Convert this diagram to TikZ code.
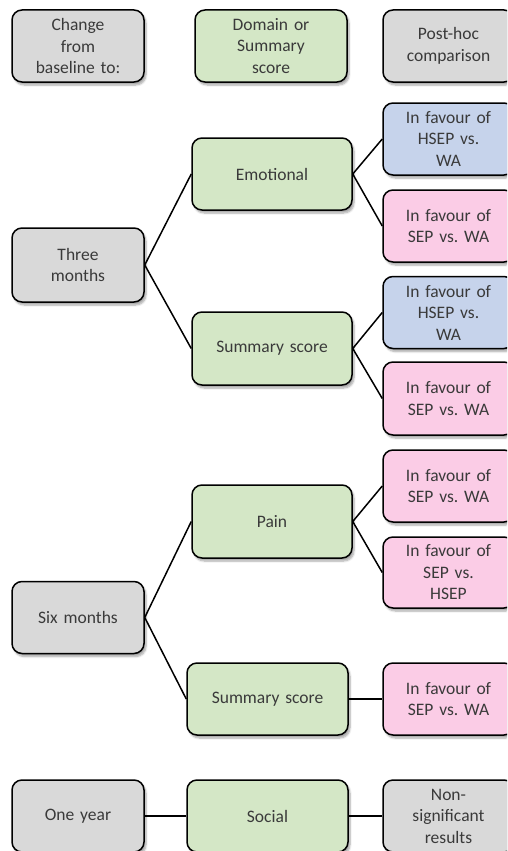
\documentclass[tikz,border=0pt]{standalone}
\usepackage{fontspec}
\setmainfont{Carlito}
\usetikzlibrary{shadows.blur}
\definecolor{boxgray}{HTML}{D9D9D9}
\definecolor{boxgreen}{HTML}{D4E7C6}
\definecolor{boxblue}{HTML}{C6D3EB}
\definecolor{boxpink}{HTML}{FBCCE6}
\definecolor{txt}{HTML}{3A3A3A}
\tikzset{
  box/.style={draw=black, line width=1.5pt, rounded corners=10pt, align=center,
    text=txt, font=\fontsize{17.5}{21.5}\selectfont\frenchspacing, inner sep=2pt,
    blur shadow={shadow xshift=2pt, shadow yshift=-3pt, shadow blur steps=6, shadow opacity=35}},
  gbox/.style={box, fill=boxgray},
  grbox/.style={box, fill=boxgreen},
  bbox/.style={box, fill=boxblue},
  pbox/.style={box, fill=boxpink},
  lcol/.style={minimum width=132pt, minimum height=72pt, text width=124pt},
  mcol/.style={minimum width=160pt, minimum height=72pt, text width=150pt},
  rcol/.style={minimum width=131pt, minimum height=72pt, text width=122pt},
  link/.style={draw=black, line width=1.5pt}
}
\begin{document}
\begin{tikzpicture}[x=1pt,y=-1pt]
\path[use as bounding box] (0,0) rectangle (507,851);
\clip (0,0) rectangle (507,851);
% header
\node[gbox, lcol] (hA) at (78,46) {Change\\from\\baseline to:};
\node[grbox, minimum width=152pt, minimum height=72pt, text width=140pt] (hB) at (271,46) {Domain or\\Summary\\score};
\node[gbox, rcol] (hC) at (448.5,46) {Post-hoc\\comparison};
% three months
\node[gbox, lcol, minimum height=74pt] (tm) at (78,265) {Three\\months};
\node[grbox, mcol] (emo) at (272,174) {Emotional};
\node[grbox, mcol, minimum height=73pt] (sum1) at (272,348.5) {Summary score};
\node[bbox, rcol] (b1) at (448.5,139) {In favour of\\HSEP vs.\\WA};
\node[pbox, rcol] (p1) at (448.5,226) {In favour of\\SEP vs. WA};
\node[bbox, rcol] (b2) at (448.5,312.5) {In favour of\\HSEP vs.\\WA};
\node[pbox, rcol, minimum height=73pt] (p2) at (448.5,398.5) {In favour of\\SEP vs. WA};
% six months
\node[gbox, lcol] (sm) at (78,617.5) {Six months};
\node[grbox, mcol, minimum height=73pt] (pain) at (272,521.5) {Pain};
\node[grbox, minimum width=161pt, minimum height=72pt, text width=150pt] (sum2) at (267.5,699) {Summary score};
\node[pbox, rcol] (p3) at (448.5,486) {In favour of\\SEP vs. WA};
\node[pbox, rcol, minimum height=71pt] (p4) at (448.5,572.5) {In favour of\\SEP vs.\\HSEP};
\node[pbox, rcol] (p5) at (448.5,699) {In favour of\\SEP vs. WA};
% one year
\node[gbox, lcol] (oy) at (78,816) {One year};
\node[grbox, minimum width=161pt, minimum height=72pt, text width=150pt] (soc) at (267.5,816) {Social};
\node[gbox, rcol] (ns) at (448.5,816) {Non-\\significant\\results};
% connectors
\draw[link] (tm.east) -- (emo.west);
\draw[link] (tm.east) -- (sum1.west);
\draw[link] (emo.east) -- (b1.west);
\draw[link] (emo.east) -- (p1.west);
\draw[link] (sum1.east) -- (b2.west);
\draw[link] (sum1.east) -- (p2.west);
\draw[link] (sm.east) -- (pain.west);
\draw[link] (sm.east) -- (sum2.west);
\draw[link] (pain.east) -- (p3.west);
\draw[link] (pain.east) -- (p4.west);
\draw[link] (sum2.east) -- (p5.west);
\draw[link] (oy.east) -- (soc.west);
\draw[link] (soc.east) -- (ns.west);
\end{tikzpicture}
\end{document}
